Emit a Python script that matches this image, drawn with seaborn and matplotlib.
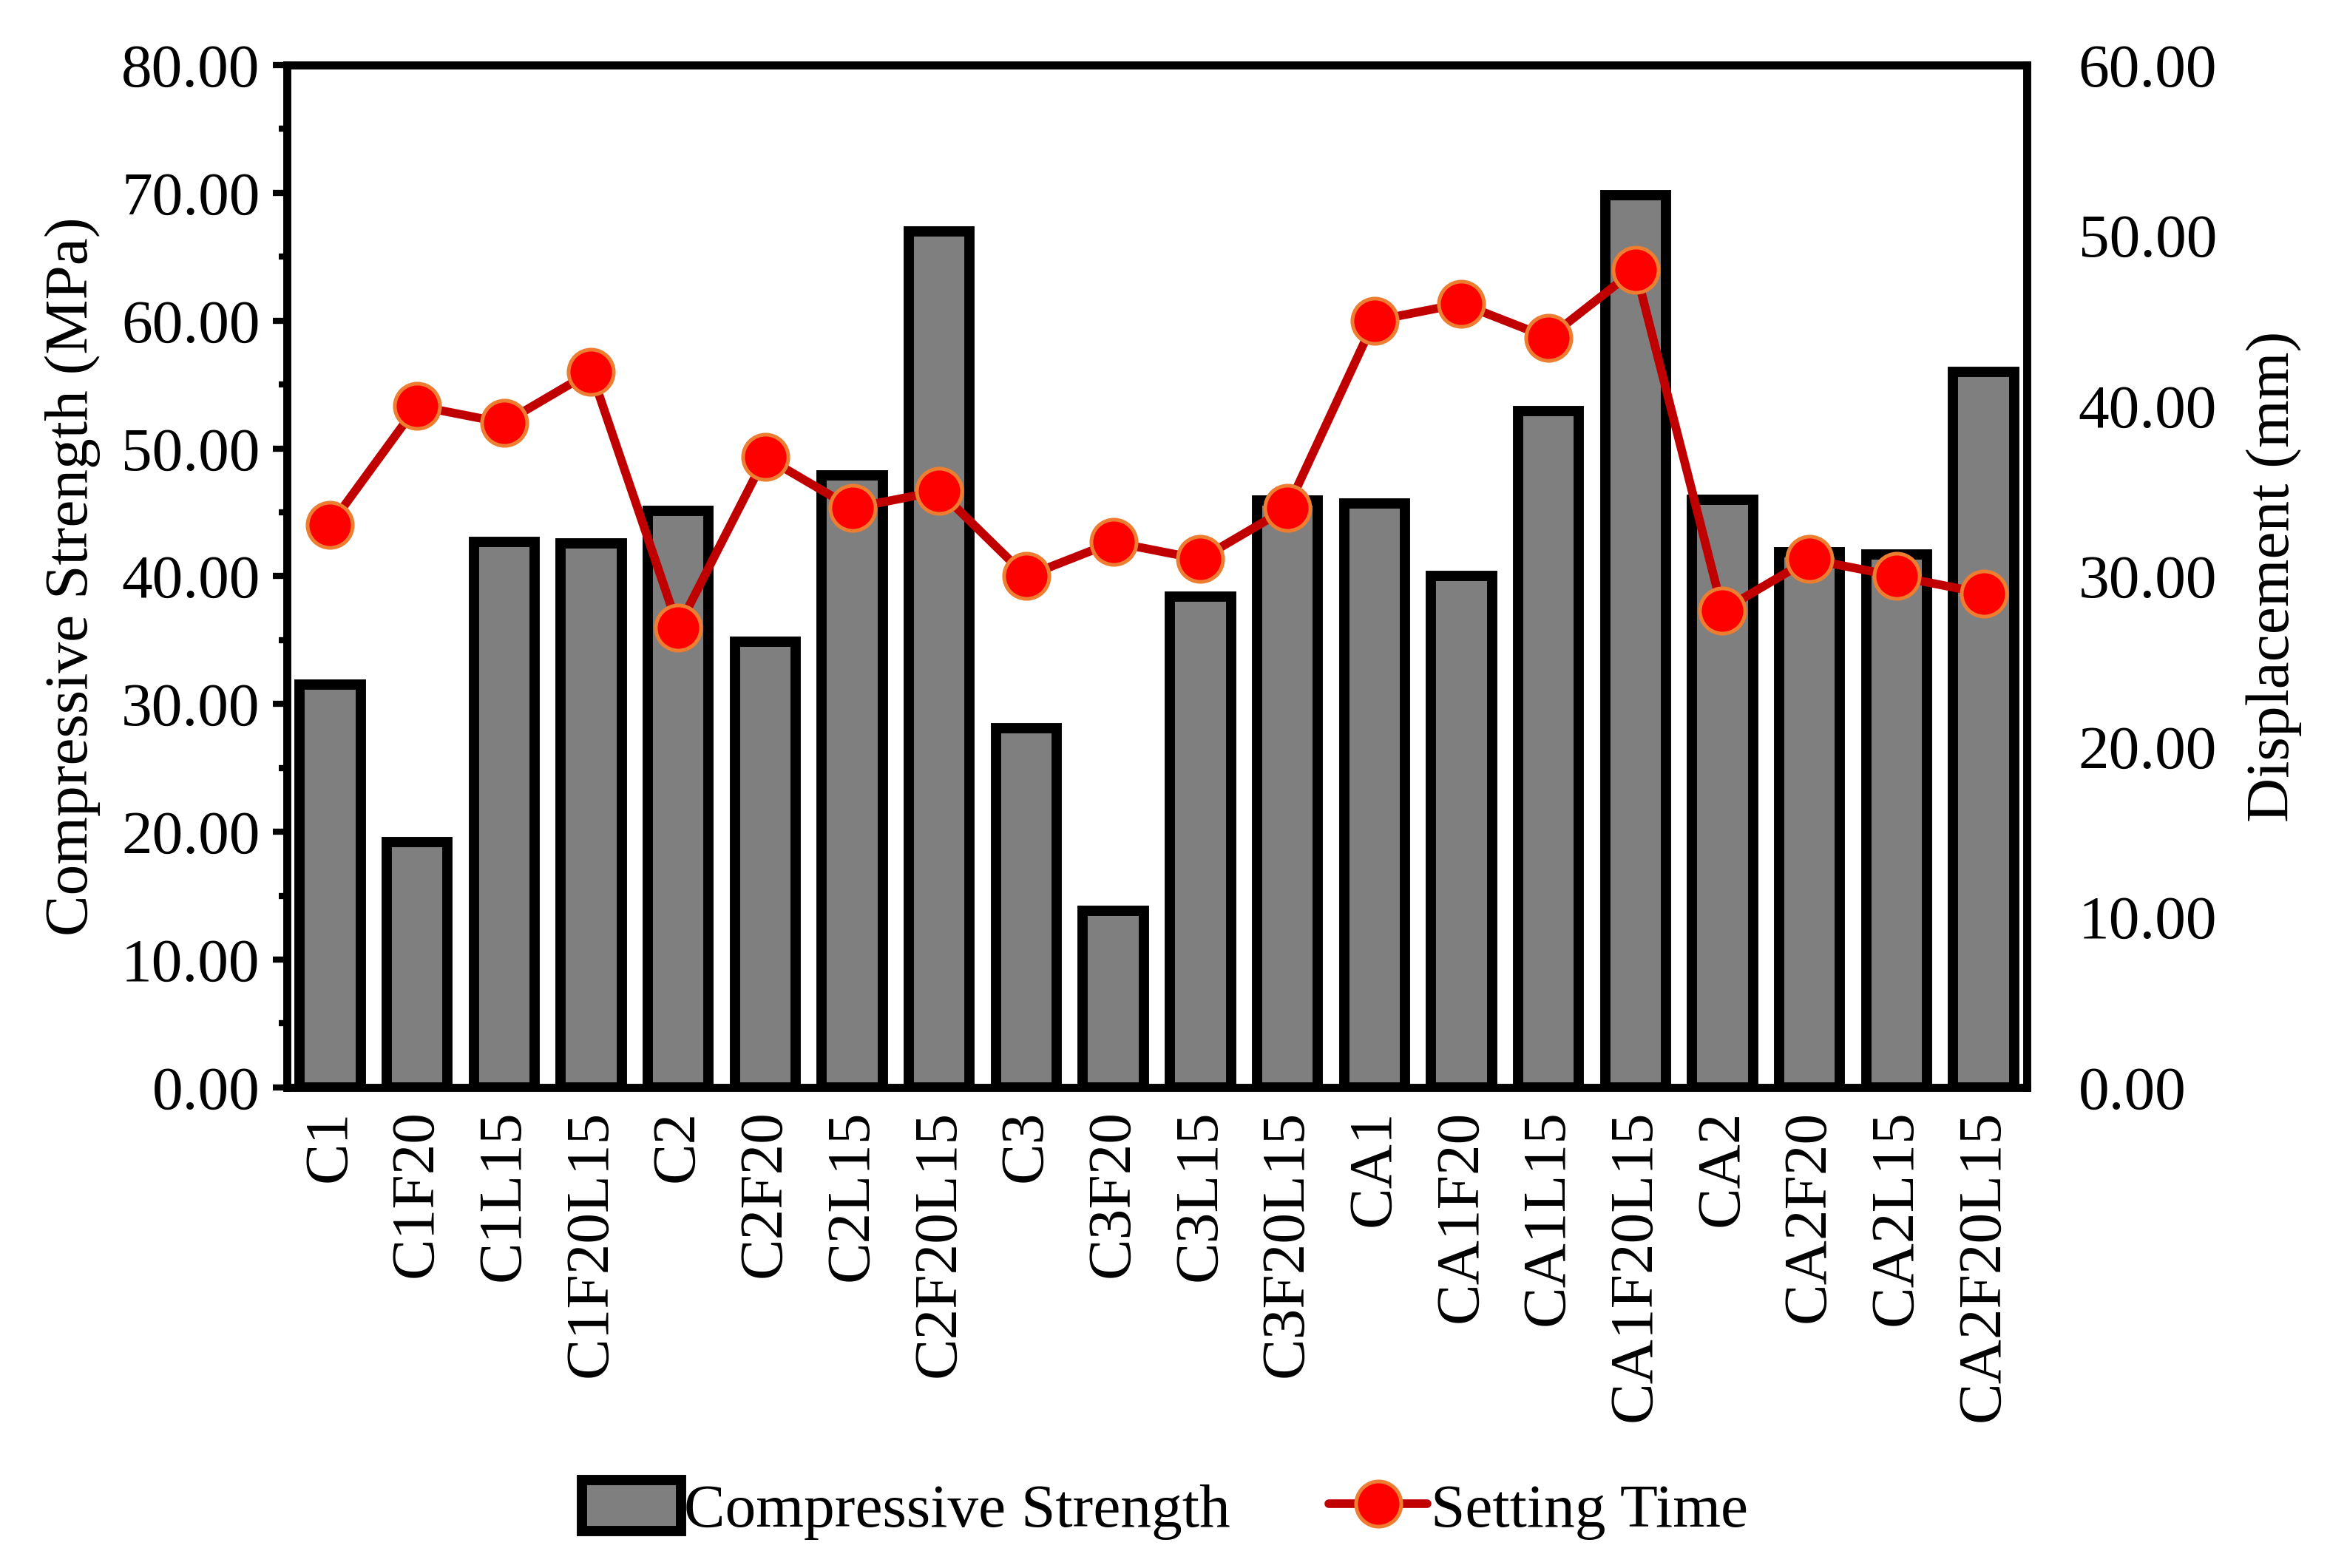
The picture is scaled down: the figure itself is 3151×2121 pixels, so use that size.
import numpy as np
import pandas as pd
import matplotlib
matplotlib.use('Agg')
import matplotlib.pyplot as plt
import seaborn as sns
from matplotlib.lines import Line2D
from matplotlib.patches import Patch
from matplotlib.ticker import MultipleLocator

################################################################################
# data

mixes = ['C1', 'C1F20', 'C1L15', 'C1F20L15',
         'C2', 'C2F20', 'C2L15', 'C2F20L15',
         'C3', 'C3F20', 'C3L15', 'C3F20L15',
         'CA1', 'CA1F20', 'CA1L15', 'CA1F20L15',
         'CA2', 'CA2F20', 'CA2L15', 'CA2F20L15']

compressive_strength = [31.5, 19.2, 42.7, 42.6,
                        45.1, 34.9, 47.9, 67.0,
                        28.1, 13.8, 38.4, 45.9,
                        45.7, 40.0, 52.9, 69.8,
                        46.0, 41.9, 41.7, 56.0]

setting_time = [33.0, 40.0, 39.0, 42.0,
                27.0, 37.0, 34.0, 35.0,
                30.0, 32.0, 31.0, 34.0,
                45.0, 46.0, 44.0, 48.0,
                28.0, 31.0, 30.0, 29.0]

left_ticks = [0, 10, 20, 30, 40, 50, 60, 70, 80]
right_ticks = [0, 10, 20, 30, 40, 50, 60]

################################################################################

sns.set_style('white')
plt.rcParams['font.family'] = ['Liberation Serif', 'DejaVu Serif']
for key in ('text.color', 'axes.labelcolor', 'xtick.color', 'ytick.color'):
    plt.rcParams[key] = 'black'

FONT = 30
BAR_GRAY = '#7f7f7f'
LINE_RED = '#c00000'
MARK_RED = '#ff0000'
MARK_EDGE = '#ed7d31'
BAR_EDGE_W = 5
LINE_W = 4.2

df = pd.DataFrame({
    'mix': mixes,
    'strength': compressive_strength,
    'setting': setting_time,
    'pos': np.arange(len(mixes)),
})

fig = plt.figure(figsize = (15.755, 10.605), dpi = 200)
ax = fig.add_axes([0.123, 0.3065, 0.747, 0.652])

sns.barplot(
    data = df,
    x = 'mix',
    y = 'strength',
    color = BAR_GRAY,
    saturation = 1,
    width = 0.7,
    edgecolor = 'black',
    linewidth = BAR_EDGE_W,
    ax = ax
)

ax2 = ax.twinx()
sns.lineplot(
    data = df,
    x = 'pos',
    y = 'setting',
    color = LINE_RED,
    linewidth = LINE_W,
    marker = 'o',
    markersize = 22,
    markerfacecolor = MARK_RED,
    markeredgecolor = MARK_EDGE,
    markeredgewidth = 1.8,
    ax = ax2
)

ax.set_xlim(-0.5, len(mixes) - 0.5)
ax.set_ylim(0, 80)
ax2.set_ylim(0, 60)

ax.set_yticks(left_ticks)
ax.set_yticklabels([f'{t:.2f}' for t in left_ticks], fontsize = FONT)
ax.yaxis.set_minor_locator(MultipleLocator(5))
ax.tick_params(axis = 'y', which = 'major', direction = 'out', length = 7, width = 3, pad = 6, left = True)
ax.tick_params(axis = 'y', which = 'minor', direction = 'out', length = 4, width = 3, left = True)

ax2.set_yticks(right_ticks)
ax2.set_yticklabels([f'{t:.2f}' for t in right_ticks], fontsize = FONT)
ax2.tick_params(axis = 'y', length = 0, pad = 25)

ax.set_xticks(np.arange(len(mixes)))
ax.set_xticklabels(mixes, rotation = 90, fontsize = FONT)
ax.tick_params(axis = 'x', length = 0, pad = 11)

ax.set_xlabel('')
ax.set_ylabel('Compressive Strength (MPa)', fontsize = FONT, labelpad = 10)
ax2.set_ylabel('Displacement (mm)', fontsize = FONT, rotation = 90, labelpad = 14)

for axis in (ax, ax2):
    for spine in axis.spines.values():
        spine.set_linewidth(3.8)
        spine.set_color('black')
    axis.grid(False)

handles = [
    Patch(facecolor = BAR_GRAY, edgecolor = 'black', linewidth = BAR_EDGE_W),
    Line2D([0], [0], color = LINE_RED, linewidth = LINE_W, marker = 'o',
           markersize = 22, markerfacecolor = MARK_RED, markeredgecolor = MARK_EDGE,
           markeredgewidth = 1.8),
]
fig.legend(
    handles,
    ['Compressive Strength', 'Setting Time'],
    loc = 'center',
    bbox_to_anchor = (0.5, 0.037),
    ncol = 2,
    frameon = False,
    fontsize = FONT,
    handlelength = 1.6,
    handleheight = 0.9,
    handletextpad = 0.05,
    columnspacing = 1.6
)

fig.savefig('out.png', dpi = 200)
